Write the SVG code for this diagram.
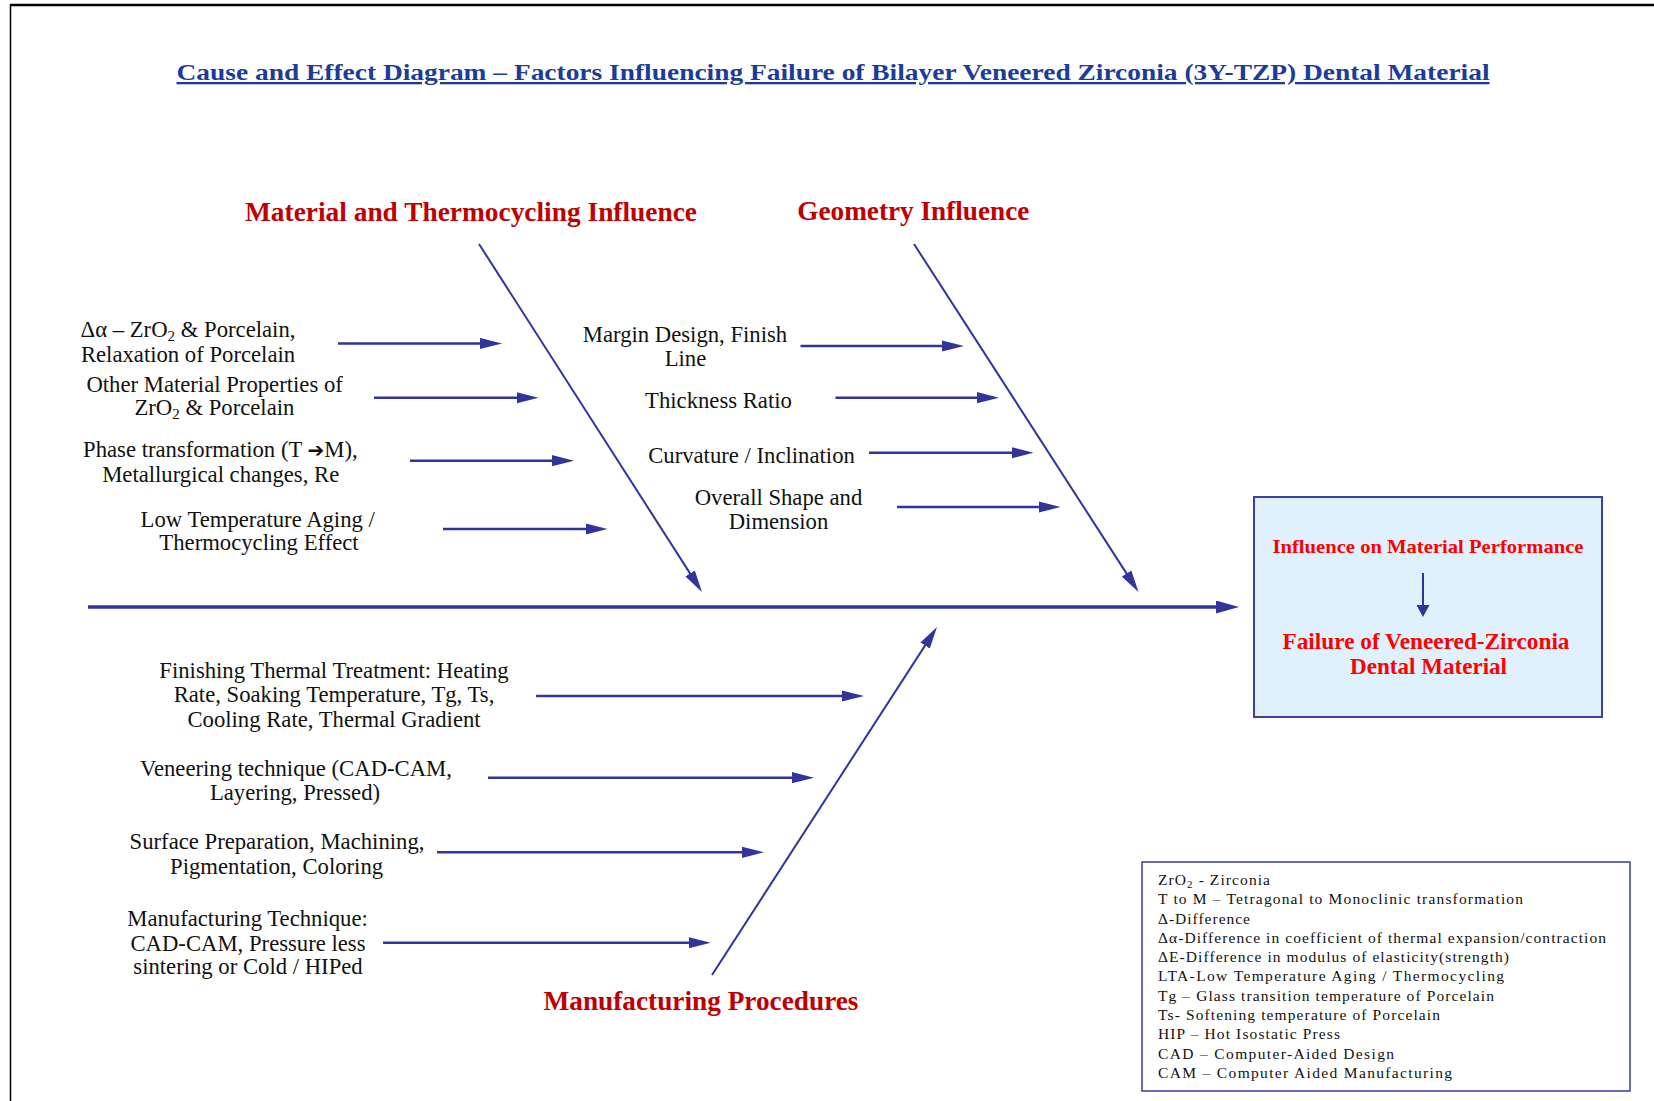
<svg xmlns="http://www.w3.org/2000/svg" width="1654" height="1101" viewBox="0 0 1654 1101">
<defs>
<style>
.t{font-family:"Liberation Serif","Times New Roman",serif;font-size:22.7px;fill:#111;text-anchor:middle}
.cat{font-family:"Liberation Serif","Times New Roman",serif;font-size:27px;font-weight:bold;fill:#C00000;text-anchor:middle}
.bx{font-family:"Liberation Serif","Times New Roman",serif;font-weight:bold;fill:#FF0000;text-anchor:middle}
.lg{font-family:"Liberation Serif","Times New Roman",serif;font-size:15.5px;fill:#111}
.ar{stroke:#31349B;stroke-width:2.5;fill:none;marker-end:url(#ah)}
.bone{stroke:#31349B;stroke-width:2;fill:none;marker-end:url(#ah)}
</style>
<marker id="ah" markerUnits="userSpaceOnUse" viewBox="0 0 22 12" markerWidth="22" markerHeight="12" refX="10" refY="6" orient="auto"><path d="M0,0.4 L22,6 L0,11.6 z" fill="#31349B"/></marker>
<marker id="ahBig" markerUnits="userSpaceOnUse" viewBox="0 0 23 13" markerWidth="23" markerHeight="13" refX="11" refY="6.5" orient="auto"><path d="M0,0 L23,6.5 L0,13 z" fill="#31349B"/></marker>
<marker id="ahSm" markerUnits="userSpaceOnUse" viewBox="0 0 12 13" markerWidth="12" markerHeight="13" refX="6" refY="6.5" orient="auto"><path d="M0,0 L12,6.5 L0,13 z" fill="#31349B"/></marker>
</defs>
<rect width="1654" height="1101" fill="#fff"/>
<g id="frame">
<line x1="10" y1="5" x2="1654" y2="5" stroke="#000" stroke-width="2.5"/>
<line x1="10.5" y1="4" x2="10.5" y2="1101" stroke="#000" stroke-width="1.5"/>
</g>
<text id="title" x="833" y="80" font-family="Liberation Serif,Times New Roman,serif" font-size="23" font-weight="bold" fill="#1C3C9C" text-anchor="middle" text-decoration="underline" textLength="1313" lengthAdjust="spacingAndGlyphs">Cause and Effect Diagram – Factors Influencing Failure of Bilayer Veneered Zirconia (3Y-TZP) Dental Material</text>

<g id="connectors">
<line x1="88" y1="607" x2="1227" y2="607" stroke="#31349B" stroke-width="3.5" marker-end="url(#ahBig)"/>
<line class="bone" x1="479" y1="244" x2="695.5" y2="581.9"/>
<line class="bone" x1="914" y1="244" x2="1132" y2="581.9"/>
<line class="bone" x1="712" y1="975" x2="930.5" y2="637.1"/>
<line class="ar" x1="338" y1="343.5" x2="490" y2="343.5"/>
<line class="ar" x1="374" y1="397.7" x2="526.5" y2="397.7"/>
<line class="ar" x1="410" y1="460.7" x2="562" y2="460.7"/>
<line class="ar" x1="443" y1="529" x2="595.5" y2="529"/>
<line class="ar" x1="800.5" y1="346" x2="952" y2="346"/>
<line class="ar" x1="835.5" y1="397.7" x2="987" y2="397.7"/>
<line class="ar" x1="869" y1="452.7" x2="1021.5" y2="452.7"/>
<line class="ar" x1="897" y1="507" x2="1048.5" y2="507"/>
<line class="ar" x1="536" y1="696" x2="852" y2="696"/>
<line class="ar" x1="488" y1="777.7" x2="802" y2="777.7"/>
<line class="ar" x1="437" y1="852.3" x2="752" y2="852.3"/>
<line class="ar" x1="383" y1="942.7" x2="698.7" y2="942.7"/>
</g>

<g id="cat-material"><text class="cat" x="471" y="221" textLength="452" lengthAdjust="spacingAndGlyphs">Material and Thermocycling Influence</text></g>
<g id="cat-geometry"><text class="cat" x="913.3" y="220" textLength="232" lengthAdjust="spacingAndGlyphs">Geometry Influence</text></g>
<g id="cat-manufacturing"><text class="cat" x="701" y="1010" textLength="315" lengthAdjust="spacingAndGlyphs">Manufacturing Procedures</text></g>

<g id="m1"><text class="t" x="188" y="337">Δα – ZrO<tspan font-size="15" dy="4">2</tspan><tspan dy="-4"> &amp; Porcelain,</tspan></text><text class="t" x="188" y="362">Relaxation of Porcelain</text></g>
<g id="m2"><text class="t" x="214.6" y="392">Other Material Properties of</text><text class="t" x="214.4" y="415">ZrO<tspan font-size="15" dy="4">2</tspan><tspan dy="-4"> &amp; Porcelain</tspan></text></g>
<g id="m3"><text class="t" x="220.4" y="456.7">Phase transformation (T <tspan font-family="DejaVu Sans,sans-serif" font-size="20">➔</tspan>M),</text><text class="t" x="220.7" y="481.7">Metallurgical changes, Re</text></g>
<g id="m4"><text class="t" x="257.7" y="526.7">Low Temperature Aging /</text><text class="t" x="259" y="550">Thermocycling Effect</text></g>

<g id="g1"><text class="t" x="685" y="342">Margin Design, Finish</text><text class="t" x="685.5" y="366">Line</text></g>
<g id="g2"><text class="t" x="718.5" y="408">Thickness Ratio</text></g>
<g id="g3"><text class="t" x="751.5" y="463">Curvature / Inclination</text></g>
<g id="g4"><text class="t" x="778.5" y="505">Overall Shape and</text><text class="t" x="778.5" y="529">Dimension</text></g>

<g id="f1"><text class="t" x="334" y="677.5">Finishing Thermal Treatment: Heating</text><text class="t" x="334" y="702.3">Rate, Soaking Temperature, Tg, Ts,</text><text class="t" x="334" y="727.3">Cooling Rate, Thermal Gradient</text></g>
<g id="f2"><text class="t" x="296" y="776">Veneering technique (CAD-CAM,</text><text class="t" x="295" y="800">Layering, Pressed)</text></g>
<g id="f3"><text class="t" x="277" y="849.3">Surface Preparation, Machining,</text><text class="t" x="276.6" y="874.3">Pigmentation, Coloring</text></g>
<g id="f4"><text class="t" x="247.5" y="926">Manufacturing Technique:</text><text class="t" x="248" y="950.7">CAD-CAM, Pressure less</text><text class="t" x="248" y="974.3">sintering or Cold / HIPed</text></g>

<g id="effect">
<rect x="1254" y="497" width="348" height="220" fill="#DFF1FC" stroke="#3F3F9F" stroke-width="2"/>
<text class="bx" x="1428" y="553" font-size="19.5" textLength="311" lengthAdjust="spacingAndGlyphs">Influence on Material Performance</text>
<line x1="1423" y1="573" x2="1423" y2="611" stroke="#31349B" stroke-width="2" marker-end="url(#ahSm)"/>
<text class="bx" x="1426" y="649" font-size="22.5" textLength="287" lengthAdjust="spacingAndGlyphs">Failure of Veneered-Zirconia</text>
<text class="bx" x="1428.5" y="674" font-size="22.5" textLength="157" lengthAdjust="spacingAndGlyphs">Dental Material</text>
</g>

<g id="legend">
<rect x="1142" y="862" width="488" height="229" fill="#fff" stroke="#3B3B9B" stroke-width="1.5"/>
<text class="lg" x="1158" y="885" textLength="112" lengthAdjust="spacing">ZrO<tspan font-size="11" dy="3">2</tspan><tspan dy="-3"> - Zirconia</tspan></text>
<text class="lg" x="1158" y="904.3" textLength="365" lengthAdjust="spacing">T to M – Tetragonal to Monoclinic transformation</text>
<text class="lg" x="1158" y="923.5" textLength="92" lengthAdjust="spacing">Δ-Difference</text>
<text class="lg" x="1158" y="942.8" textLength="448" lengthAdjust="spacing">Δα-Difference in coefficient of thermal expansion/contraction</text>
<text class="lg" x="1158" y="962" textLength="351" lengthAdjust="spacing">ΔE-Difference in modulus of elasticity(strength)</text>
<text class="lg" x="1158" y="981.3" textLength="346" lengthAdjust="spacing">LTA-Low Temperature Aging / Thermocycling</text>
<text class="lg" x="1158" y="1000.7" textLength="336" lengthAdjust="spacing">Tg – Glass transition temperature of Porcelain</text>
<text class="lg" x="1158" y="1020" textLength="282" lengthAdjust="spacing">Ts- Softening temperature of Porcelain</text>
<text class="lg" x="1158" y="1039.3" textLength="182" lengthAdjust="spacing">HIP – Hot Isostatic Press</text>
<text class="lg" x="1158" y="1058.7" textLength="236" lengthAdjust="spacing">CAD – Computer-Aided Design</text>
<text class="lg" x="1158" y="1078" textLength="294" lengthAdjust="spacing">CAM – Computer Aided Manufacturing</text>
</g>
</svg>
